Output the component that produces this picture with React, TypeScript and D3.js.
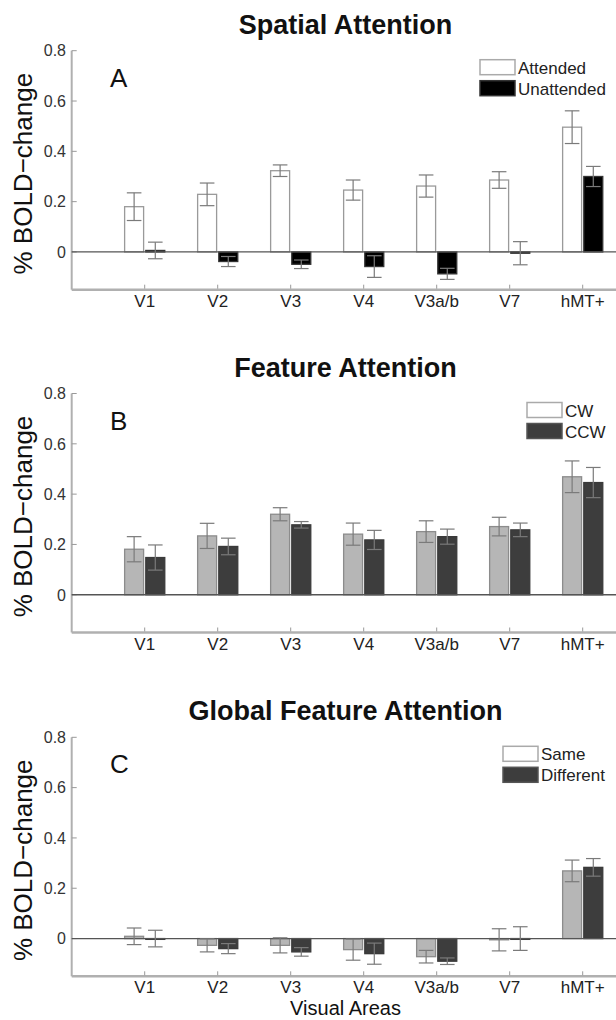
import React from "react";
import * as d3 from "d3";

const areas = ["V1", "V2", "V3", "V4", "V3a/b", "V7", "hMT+"];
const yTicks = [0, 0.2, 0.4, 0.6, 0.8];
const yTickLabels = ["0", "0.2", "0.4", "0.6", "0.8"];

const attended = [0.18, 0.229, 0.323, 0.246, 0.262, 0.286, 0.496];
const attendedErr = [0.055, 0.045, 0.023, 0.04, 0.044, 0.033, 0.065];
const unattended = [0.006, -0.038, -0.049, -0.058, -0.087, -0.005, 0.3];
const unattendedErr = [0.033, 0.02, 0.017, 0.043, 0.022, 0.046, 0.04];

const cw = [0.181, 0.234, 0.32, 0.241, 0.251, 0.271, 0.469];
const cwErr = [0.05, 0.05, 0.026, 0.044, 0.043, 0.037, 0.063];
const ccw = [0.148, 0.192, 0.278, 0.218, 0.231, 0.258, 0.446];
const ccwErr = [0.05, 0.033, 0.013, 0.038, 0.03, 0.027, 0.06];

const same = [0.009, -0.027, -0.027, -0.044, -0.072, -0.005, 0.269];
const sameErr = [0.033, 0.026, 0.03, 0.042, 0.025, 0.044, 0.043];
const different = [0.0, -0.04, -0.053, -0.06, -0.09, 0.0, 0.283];
const differentErr = [0.033, 0.02, 0.017, 0.042, 0.013, 0.047, 0.035];

const FONT = "'Liberation Sans', Arial, Helvetica, sans-serif";
const W = 616;
const H = 1020;
const AX_LEFT = 71.7;
const UNIT = 73;
const PLOT_H = 239;

type Series = {
  name: string;
  values: number[];
  errs: number[];
  fill: string;
  stroke: string;
  legendFill: string;
  legendStroke: string;
};

function Panel(props: {
  top: number;
  title: string;
  letter: string;
  legendX: number;
  series: Series[];
}) {
  const { top, title, letter, legendX, series } = props;
  const x = d3.scaleLinear().domain([0, 7.5]).range([AX_LEFT, AX_LEFT + 7.5 * UNIT]);
  const y = d3.scaleLinear().domain([-0.15, 0.8]).range([top + PLOT_H, top]);
  const bottom = y(-0.15);
  const barW = x(0.26) - x(0);
  const capW = x(0.2) - x(0);
  const offsets = [-0.145, 0.145];
  const errColor = "#7a7a7a";

  return (
    <g>
      <text x={345.5} y={top - 17} textAnchor="middle" fontSize={27} fontWeight="bold" fontFamily={FONT} fill="#111">
        {title}
      </text>
      <text
        transform={`translate(31.5, ${top + 123}) rotate(-90)`}
        textAnchor="middle"
        fontSize={26}
        fontFamily={FONT}
        fill="#111"
      >
        % BOLD−change
      </text>
      {/* axes */}
      <line x1={AX_LEFT} x2={AX_LEFT} y1={top} y2={bottom} stroke="#b0b0b0" strokeWidth={2} />
      <line x1={AX_LEFT} x2={W} y1={bottom} y2={bottom} stroke="#b0b0b0" strokeWidth={2.5} />
      {yTicks.map((t, i) => (
        <g key={"yt" + i}>
          <line x1={AX_LEFT} x2={AX_LEFT + 5} y1={y(t)} y2={y(t)} stroke="#999" strokeWidth={1} />
          <text x={66} y={y(t)} dy="0.36em" textAnchor="end" fontSize={16} fontFamily={FONT} fill="#333">
            {yTickLabels[i]}
          </text>
        </g>
      ))}
      {areas.map((a, i) => (
        <g key={"xt" + i}>
          <line x1={x(i + 1)} x2={x(i + 1)} y1={bottom - 1} y2={bottom - 5} stroke="#999" strokeWidth={1} />
          <text x={x(i + 1)} y={bottom + 17} textAnchor="middle" fontSize={17} fontFamily={FONT} fill="#222">
            {a}
          </text>
        </g>
      ))}
      {/* bars */}
      {series.map((s, si) =>
        s.values.map((v, i) => {
          const cx = x(i + 1 + offsets[si]);
          const y0 = y(0);
          const yv = y(v);
          return (
            <rect
              key={"b" + si + "-" + i}
              x={cx - barW / 2}
              y={Math.min(y0, yv)}
              width={barW}
              height={Math.max(Math.abs(yv - y0), 0.8)}
              fill={s.fill}
              stroke={s.stroke}
              strokeWidth={1.3}
            />
          );
        })
      )}
      <line x1={AX_LEFT} x2={W} y1={y(0)} y2={y(0)} stroke="#555" strokeWidth={1.3} />
      {/* error bars */}
      {series.map((s, si) =>
        s.values.map((v, i) => {
          const cx = x(i + 1 + offsets[si]);
          const yl = y(v - s.errs[i]);
          const yh = y(v + s.errs[i]);
          return (
            <g key={"e" + si + "-" + i} stroke={errColor} strokeWidth={1.2}>
              <line x1={cx} x2={cx} y1={yl} y2={yh} />
              <line x1={cx - capW / 2} x2={cx + capW / 2} y1={yl} y2={yl} />
              <line x1={cx - capW / 2} x2={cx + capW / 2} y1={yh} y2={yh} />
            </g>
          );
        })
      )}
      <text x={110} y={top + 36} fontSize={26} fontFamily={FONT} fill="#111">
        {letter}
      </text>
      {/* legend */}
      {series.map((s, si) => (
        <g key={"l" + si}>
          <rect
            x={legendX}
            y={top + 9 + si * 21}
            width={35}
            height={15}
            fill={s.legendFill}
            stroke={s.legendStroke}
            strokeWidth={1.5}
          />
          <text x={legendX + 38} y={top + 9 + si * 21 + 14} fontSize={17} fontFamily={FONT} fill="#222">
            {s.name}
          </text>
        </g>
      ))}
    </g>
  );
}

export default function App() {
  const seriesA: Series[] = [
    { name: "Attended", values: attended, errs: attendedErr, fill: "#ffffff", stroke: "#9a9a9a", legendFill: "#ffffff", legendStroke: "#aaaaaa" },
    { name: "Unattended", values: unattended, errs: unattendedErr, fill: "#000000", stroke: "#333333", legendFill: "#000000", legendStroke: "#333333" },
  ];
  const seriesB: Series[] = [
    { name: "CW", values: cw, errs: cwErr, fill: "#b6b6b6", stroke: "#8c8c8c", legendFill: "#ffffff", legendStroke: "#aaaaaa" },
    { name: "CCW", values: ccw, errs: ccwErr, fill: "#3d3d3d", stroke: "#3a3a3a", legendFill: "#3d3d3d", legendStroke: "#555555" },
  ];
  const seriesC: Series[] = [
    { name: "Same", values: same, errs: sameErr, fill: "#b6b6b6", stroke: "#8c8c8c", legendFill: "#ffffff", legendStroke: "#aaaaaa" },
    { name: "Different", values: different, errs: differentErr, fill: "#3d3d3d", stroke: "#3a3a3a", legendFill: "#3d3d3d", legendStroke: "#555555" },
  ];
  return (
    <div style={{ position: "absolute", left: 0, top: 0 }}>
      <svg width={W} height={H} style={{ display: "block", background: "#fff" }}>
        <rect x={0} y={0} width={W} height={H} fill="#fff" />
        <Panel top={50.7} title="Spatial Attention" letter="A" legendX={480} series={seriesA} />
        <Panel top={393.5} title="Feature Attention" letter="B" legendX={527} series={seriesB} />
        <Panel top={737.3} title="Global Feature Attention" letter="C" legendX={503} series={seriesC} />
        <text x={345.5} y={1015} textAnchor="middle" fontSize={20} fontFamily={FONT} fill="#111">
          Visual Areas
        </text>
      </svg>
    </div>
  );
}
